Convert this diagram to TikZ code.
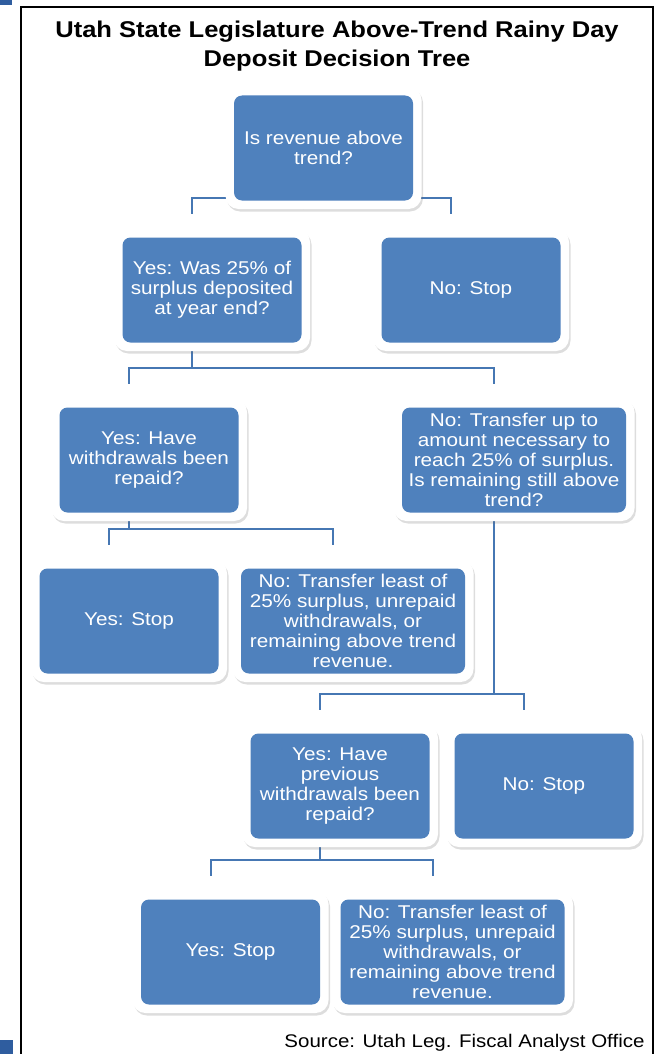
\documentclass[tikz,border=0pt]{standalone}
\usepackage{fontspec}
\setmainfont{Liberation Sans}[FakeStretch=1.12]
\usetikzlibrary{calc,shadows}
\definecolor{boxblue}{HTML}{4F81BD}
\definecolor{linkblue}{HTML}{4677B3}
\definecolor{tabblue}{HTML}{2F5D9F}
\pgfdeclarelayer{background}
\pgfsetlayers{background,main}

\begin{document}
\begin{tikzpicture}[x=1pt,y=-1pt,
  card/.style={fill=white,rounded corners=13pt,minimum width=196pt,minimum height=122pt,
    inner sep=0pt,outer sep=0pt,align=center,text=white,font=\fontsize{18.5}{20}\selectfont,
    drop shadow={shadow xshift=1.5pt,shadow yshift=-2.5pt,opacity=.22,fill=black!60},
    path picture={\fill[boxblue,rounded corners=8pt]
      ([shift={(8.5pt,-8.5pt)}]path picture bounding box.north west) rectangle
      ([shift={(-8.5pt,8.5pt)}]path picture bounding box.south east);}},
  widecard/.style={card,minimum width=241pt},
  link/.style={linkblue,line width=2pt}]
\useasboundingbox (0,0) rectangle (658,1054);
\fill[tabblue] (0,0) rectangle (12,5);
\fill[tabblue] (0,1040) rectangle (13,1054);
\draw[line width=2pt] (21,7) rectangle (653,1070);

\node[font=\bfseries\fontsize{22.8}{29}\selectfont,align=center] (title) at (337,46)
  {Utah State Legislature Above-Trend Rainy Day\\Deposit Decision Tree};

% decision boxes
\node[card] (root) at (323.5,148) {Is revenue above\\trend?};
\node[card] (yes1) at (212,290) {Yes: Was 25\% of\\surplus deposited\\at year end?};
\node[card] (no1) at (471,290) {No: Stop};
\node[card] (yes2) at (149,460) {Yes: Have\\withdrawals been\\repaid?};
\node[widecard] (no2) at (514,460) {No: Transfer up to\\amount necessary to\\reach 25\% of surplus.\\Is remaining still above\\trend?};
\node[card] (stop1) at (129,621) {Yes: Stop};
\node[widecard] (no3) at (353,621) {No: Transfer least of\\25\% surplus, unrepaid\\withdrawals, or\\remaining above trend\\revenue.};
\node[card] (yes3) at (340,786) {Yes: Have\\previous\\withdrawals been\\repaid?};
\node[card] (stop2) at (544,786) {No: Stop};
\node[card] (stop3) at (230.5,952) {Yes: Stop};
\node[widecard] (no4) at (452.5,952) {No: Transfer least of\\25\% surplus, unrepaid\\withdrawals, or\\remaining above trend\\revenue.};

\node[anchor=east,font=\fontsize{18.3}{20}\selectfont] (source) at (648,1043)
  {Source: Utah Leg. Fiscal Analyst Office};

% connectors
\begin{pgfonlayer}{background}
\foreach \p/\c in {root/yes1,root/no1,yes1/yes2,yes1/no2,yes2/stop1,yes2/no3,
                   no2/yes3,no2/stop2,yes3/stop3,yes3/no4}
  \draw[link] ($(\p.south)+(-20,0)$) |- ($(\c.north)+(-20,-31)$) -- ++(0,16);
\end{pgfonlayer}
\end{tikzpicture}
\end{document}
